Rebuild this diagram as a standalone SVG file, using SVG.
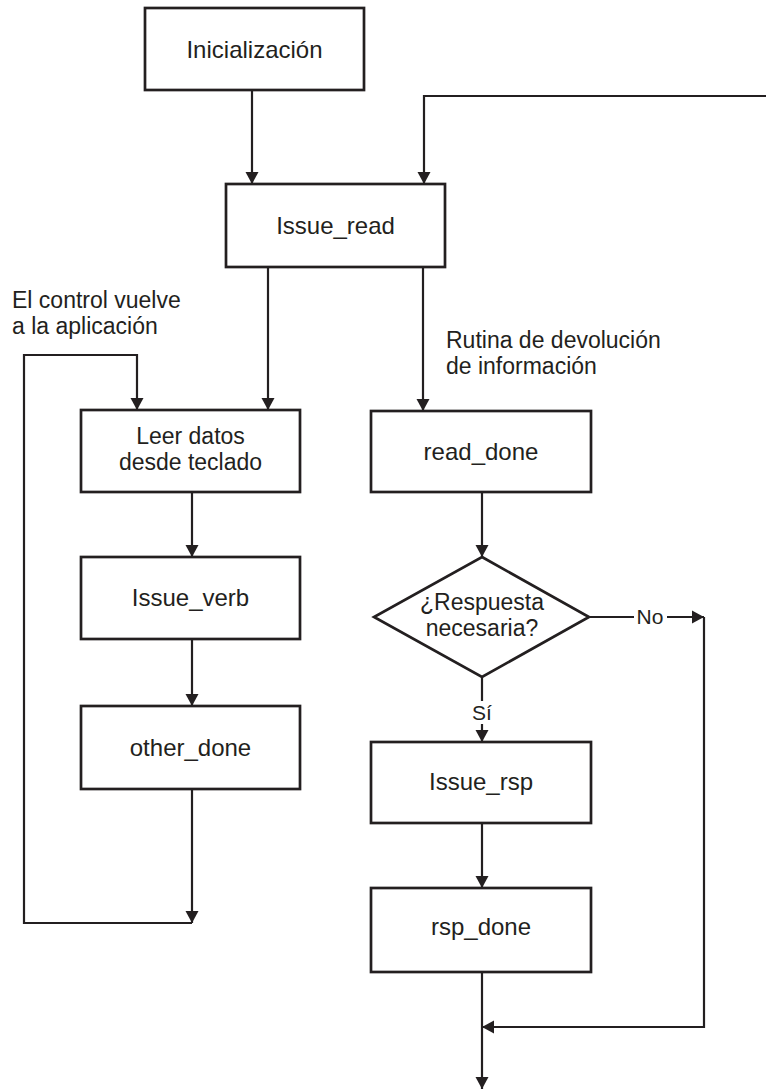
<svg xmlns="http://www.w3.org/2000/svg" width="766" height="1090" viewBox="0 0 766 1090">
<style>
.box{fill:#fff;stroke:#231f20;stroke-width:2.7}
.t{font-family:"Liberation Sans",Arial,sans-serif;font-size:24px;fill:#231f20;text-anchor:middle}
.t2{font-family:"Liberation Sans",Arial,sans-serif;font-size:23px;fill:#231f20;text-anchor:middle}
.lbl{font-family:"Liberation Sans",Arial,sans-serif;font-size:23px;fill:#231f20}
.sm{font-family:"Liberation Sans",Arial,sans-serif;font-size:21px;fill:#231f20;text-anchor:middle}
.c{fill:none;stroke:#231f20;stroke-width:2.2}
</style>
<defs>
<marker id="ah" markerUnits="userSpaceOnUse" markerWidth="13" markerHeight="14" refX="12" refY="7" orient="auto">
<path d="M0,0.5 L12,7 L0,13.5 Z" fill="#231f20"/>
</marker>
</defs>
<rect width="766" height="1090" fill="#fff"/>
<g id="connectors">
<path class="c" d="M252,90 V184" marker-end="url(#ah)"/>
<path class="c" d="M766,96 H424 V184" marker-end="url(#ah)"/>
<path class="c" d="M268,267 V410" marker-end="url(#ah)"/>
<path class="c" d="M423,267 V411" marker-end="url(#ah)"/>
<path class="c" d="M192,492 V557" marker-end="url(#ah)"/>
<path class="c" d="M192,639 V706" marker-end="url(#ah)"/>
<path class="c" d="M192,789 V923" marker-end="url(#ah)"/>
<path class="c" d="M192,923 H24 V355 H137 V410" marker-end="url(#ah)"/>
<path class="c" d="M482,492 V557" marker-end="url(#ah)"/>
<path class="c" d="M482,677 V701"/>
<path class="c" d="M482,724 V742" marker-end="url(#ah)"/>
<path class="c" d="M589,617 H634"/>
<path class="c" d="M667,617 H704" marker-end="url(#ah)"/>
<path class="c" d="M704,617 V1027 H482" marker-end="url(#ah)"/>
<path class="c" d="M482,823 V888" marker-end="url(#ah)"/>
<path class="c" d="M482,972 V1089" marker-end="url(#ah)"/>
<text class="sm" x="482" y="720">Sí</text>
<text class="sm" x="650" y="624">No</text>
</g>
<g id="label-control">
<text class="lbl" x="12" y="308">El control vuelve<tspan x="12" dy="25.8">a la aplicación</tspan></text>
</g>
<g id="label-rutina">
<text class="lbl" x="446" y="348">Rutina de devolución<tspan x="446" dy="25.8">de información</tspan></text>
</g>
<g id="inicializacion">
<rect class="box" x="145" y="8" width="219" height="82"/>
<text class="t" x="254.5" y="58">Inicialización</text>
</g>
<g id="issue_read">
<rect class="box" x="226" y="184" width="219" height="83"/>
<text class="t" x="335.5" y="234">Issue_read</text>
</g>
<g id="leer_datos">
<rect class="box" x="81" y="410" width="219" height="82"/>
<text class="t2" x="190.5" y="444">Leer datos<tspan x="190.5" dy="25.8">desde teclado</tspan></text>
</g>
<g id="issue_verb">
<rect class="box" x="81" y="557" width="219" height="82"/>
<text class="t" x="190.5" y="606">Issue_verb</text>
</g>
<g id="other_done">
<rect class="box" x="81" y="706" width="219" height="83"/>
<text class="t" x="190.5" y="756">other_done</text>
</g>
<g id="read_done">
<rect class="box" x="371" y="411" width="220" height="81"/>
<text class="t" x="481" y="460">read_done</text>
</g>
<g id="respuesta">
<polygon class="box" points="482,557 589,617 482,677 374,617"/>
<text class="t2" x="482" y="610">¿Respuesta<tspan x="482" dy="25.8">necesaria?</tspan></text>
</g>
<g id="issue_rsp">
<rect class="box" x="371" y="742" width="220" height="81"/>
<text class="t" x="481" y="790">Issue_rsp</text>
</g>
<g id="rsp_done">
<rect class="box" x="371" y="888" width="220" height="84"/>
<text class="t" x="481" y="935">rsp_done</text>
</g>
</svg>
